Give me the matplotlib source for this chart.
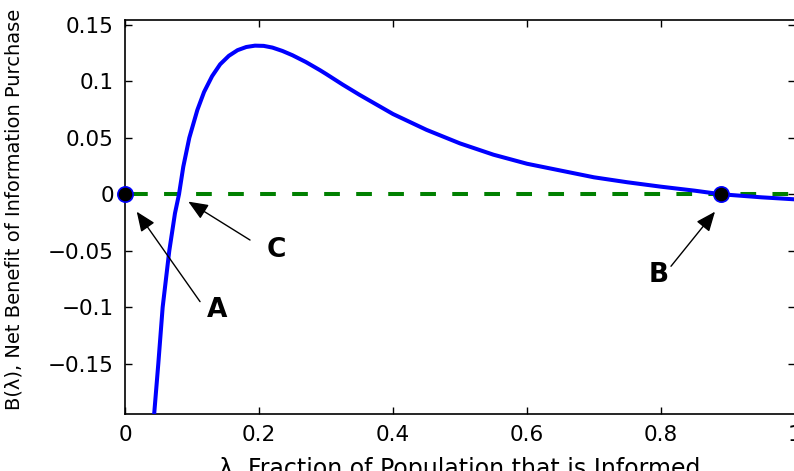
import matplotlib
matplotlib.use('Agg')
import matplotlib.pyplot as plt

# curve
lam = [0.0435, 0.0497, 0.0562, 0.0661, 0.0746, 0.0806, 0.087, 0.096, 0.108,
       0.118, 0.130, 0.142, 0.155, 0.168, 0.181, 0.194, 0.207, 0.22, 0.235,
       0.25, 0.27, 0.291, 0.30, 0.325, 0.35, 0.40, 0.45, 0.50, 0.55, 0.60,
       0.65, 0.70, 0.75, 0.80, 0.85, 0.89, 0.95, 1.0]
benefit = [-0.1947, -0.15, -0.10, -0.05, -0.0168, 0.0, 0.0244, 0.05, 0.0746,
           0.0905, 0.1045, 0.115, 0.1225, 0.1275, 0.1303, 0.1315, 0.1313, 0.1298, 0.1268,
           0.123, 0.117, 0.1098, 0.1065, 0.097, 0.088, 0.071, 0.057, 0.045, 0.035, 0.027,
           0.021, 0.015, 0.0106, 0.0067, 0.0032, 0.0, -0.0027, -0.0045]

zero_x = [0, 1]
zero_y = [0, 0]

# equilibrium points
eq_x = [0, 0.89]
eq_y = [0, 0]

# annotations: label, label position, arrow tail, arrow tip
labels = ['A', 'C', 'B']
label_pos = [(0.137, -0.1024), (0.2264, -0.0493), (0.796, -0.0714)]
arrow_tail = [(0.112, -0.095), (0.1866, -0.0405), (0.8149, -0.0637)]
arrow_tip = [(0.0175, -0.0154), (0.0945, -0.0065), (0.8806, -0.0154)]

xticks = [0, 0.2, 0.4, 0.6, 0.8, 1]
xticklabels = ['0', '0.2', '0.4', '0.6', '0.8', '1']
yticks = [-0.15, -0.1, -0.05, 0, 0.05, 0.1, 0.15]
yticklabels = ['\u22120.15', '\u22120.1', '\u22120.05', '0', '0.05', '0.1', '0.15']

fig = plt.figure(figsize=(7.94, 4.71), dpi=100)
ax = fig.add_axes([125 / 794, 56.7 / 471, 670 / 794, 394.3 / 471])

ax.plot(zero_x, zero_y, color='#008000', lw=2.9, ls=(6.2, (3.9, 4.05)), zorder=2)
ax.plot(lam, benefit, color='#0000ff', lw=2.9, zorder=3, solid_joinstyle='round')
ax.plot(eq_x, eq_y, ls='None', marker='o', ms=11, mfc='black', mec='#0000ff',
        mew=1.2, zorder=5, clip_on=False)

for lab, pos, tail, tip in zip(labels, label_pos, arrow_tail, arrow_tip):
    ax.annotate('', xy=tip, xytext=tail,
                arrowprops=dict(arrowstyle='-|>,head_length=0.6,head_width=0.25',
                                color='black', lw=1, mutation_scale=20,
                                shrinkA=0, shrinkB=0))
    ax.text(pos[0], pos[1], lab, fontsize=19, fontweight='bold',
            ha='center', va='center')

ax.set_xlim(0, 1)
ax.set_ylim(-0.1947, 0.1542)
ax.set_xticks(xticks)
ax.set_xticklabels(xticklabels)
ax.set_yticks(yticks)
ax.set_yticklabels(yticklabels)
ax.tick_params(direction='in', length=5, width=1, top=True, right=True,
               labelsize=15.5, pad=8)
for sp in ax.spines.values():
    sp.set_linewidth(1.2)

ax.set_xlabel('\u03bb, Fraction of Population that is Informed', fontsize=17)
ax.xaxis.set_label_coords(0.5, -0.108)
ax.set_ylabel('B(\u03bb), Net Benefit of Information Purchase', fontsize=14)
ax.yaxis.set_label_coords(-0.152, 0.52)

fig.savefig('out.png', dpi=100)
